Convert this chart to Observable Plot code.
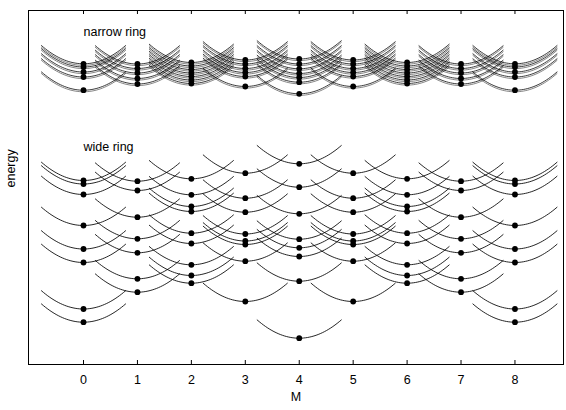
<!DOCTYPE html>
<html><head><meta charset="utf-8">
<script src="https://cdn.jsdelivr.net/npm/d3@7"></script>
<script src="https://cdn.jsdelivr.net/npm/@observablehq/plot@0.6"></script>
<style>body{margin:0;background:#fff} svg{font-family:"Liberation Sans",Arial,Helvetica,sans-serif}</style>
</head><body><div id="chart"></div>
<script>
// Angular momentum quantum numbers
const M = [0, 1, 2, 3, 4, 5, 6, 7, 8];
const tickLabels = ["0", "1", "2", "3", "4", "5", "6", "7", "8"];

// Narrow ring: band minima (energy, arbitrary units) per M
const narrowM0 = [30.07, 29.75, 29.25, 28.75, 27.43];
const narrowM1 = [30.05, 29.6, 29.15, 28.6, 28.05];
const narrowM2 = [30.2, 29.85, 29.5, 29.15, 28.8, 28.45, 28.1];
const narrowM3 = [30.45, 30.05, 29.6, 29.2, 28.8, 27.8];
const narrowM4 = [30.55, 30.05, 29.57, 29.1, 28.7, 28.23, 27.07];
const narrowM5 = [30.45, 30.05, 29.6, 29.2, 28.8, 27.8];
const narrowM6 = [30.2, 29.85, 29.5, 29.15, 28.8, 28.45, 28.1];
const narrowM7 = [30.05, 29.6, 29.15, 28.6, 28.05];
const narrowM8 = [30.07, 29.75, 29.25, 28.75, 27.43];

// Wide ring: band minima per M
const wideM0 = [18.4, 18.05, 17.0, 13.9, 11.55, 10.2, 5.55, 4.23];
const wideM1 = [18.33, 17.4, 14.73, 12.57, 11.17, 8.57, 7.23];
const wideM2 = [18.57, 16.97, 15.8, 15.3, 13.13, 12.1, 9.97, 8.9, 8.13];
const wideM3 = [19.13, 16.63, 15.23, 13.05, 12.35, 12.0, 10.33, 6.3];
const wideM4 = [20.07, 17.73, 15.07, 12.53, 11.67, 10.8, 8.33, 2.63];
const wideM5 = [19.13, 16.63, 15.23, 13.05, 12.35, 12.0, 10.33, 6.3];
const wideM6 = [18.57, 16.97, 15.8, 15.3, 13.13, 12.1, 9.97, 8.9, 8.13];
const wideM7 = [18.33, 17.4, 14.73, 12.57, 11.17, 8.57, 7.23];
const wideM8 = [18.4, 18.05, 17.0, 13.9, 11.55, 10.2, 5.55, 4.23];

const ringLabels = [{text: "narrow ring", M: 0, E: 33.3}, {text: "wide ring", M: 0, E: 21.8}];

const narrow = [narrowM0, narrowM1, narrowM2, narrowM3, narrowM4, narrowM5, narrowM6, narrowM7, narrowM8];
const wide = [wideM0, wideM1, wideM2, wideM3, wideM4, wideM5, wideM6, wideM7, wideM8];

const curvature = 3.0;   // parabola curvature (energy units per M^2)
const halfWidth = 0.78;  // half extent of each parabola in M

function levels(groups, ring) {
  return groups.flatMap((Es, i) => Es.map((E, j) => ({M: M[i], E, ring, id: `${ring}-${i}-${j}`})));
}
const narrowDots = levels(narrow, "narrow");
const wideDots = levels(wide, "wide");

function arcs(dots) {
  const steps = 40;
  return dots.flatMap(d => d3.range(steps + 1).map(k => {
    const t = -halfWidth + (2 * halfWidth * k) / steps;
    return {id: d.id, m: d.M + t, E: d.E + curvature * t * t};
  }));
}
const narrowArcs = arcs(narrowDots);
const wideArcs = arcs(wideDots);

const yMax = 35.4;
const tickLen = 0.4;

const chart = Plot.plot({
  width: 566,
  height: 410,
  marginLeft: 28,
  marginRight: 3,
  marginTop: 10,
  marginBottom: 46,
  style: {fontSize: "12px", fontFamily: "Liberation Sans, Arial, sans-serif", background: "#fff"},
  x: {domain: [-1.02, 8.9]},
  y: {domain: [0, yMax]},
  marks: [
    Plot.line(wideArcs, {x: "m", y: "E", z: "id", stroke: "#000", strokeWidth: 1, strokeOpacity: 0.85}),
    Plot.line(narrowArcs, {x: "m", y: "E", z: "id", stroke: "#000", strokeWidth: 0.9, strokeOpacity: 0.85}),
    Plot.line(narrowArcs, {x: "m", y: "E", z: "id", stroke: "#000", strokeWidth: 0.8, strokeOpacity: 0.6, dy: 1.6}),
    Plot.dot(wideDots, {x: "M", y: "E", r: 2.9, fill: "black", stroke: "none"}),
    Plot.dot(narrowDots, {x: "M", y: "E", r: 2.9, fill: "black", stroke: "none"}),
    Plot.text(ringLabels, {x: "M", y: "E", text: "text", textAnchor: "start", fontSize: 12.5, fill: "black"}),
    Plot.ruleX(M, {x: d => d, y1: 0, y2: tickLen, stroke: "black", strokeWidth: 1}),
    Plot.ruleX(M, {x: d => d, y1: yMax - tickLen, y2: yMax, stroke: "black", strokeWidth: 1}),
    Plot.axisX({ticks: M, tickFormat: (d, i) => tickLabels[i], tickSize: 0, tickPadding: 11, label: null, fontSize: 12.5}),
    Plot.axisY({ticks: [], label: null}),
    Plot.text(["M"], {frameAnchor: "bottom", dy: 36, text: d => d, fontSize: 12.5, fill: "black"}),
    Plot.text(["energy"], {frameAnchor: "left", dx: -18, rotate: -90, text: d => d, fontSize: 12.5, fill: "black"}),
    Plot.frame({stroke: "black", strokeWidth: 1})
  ]
});
document.getElementById("chart").appendChild(chart);
</script>
</body></html>
